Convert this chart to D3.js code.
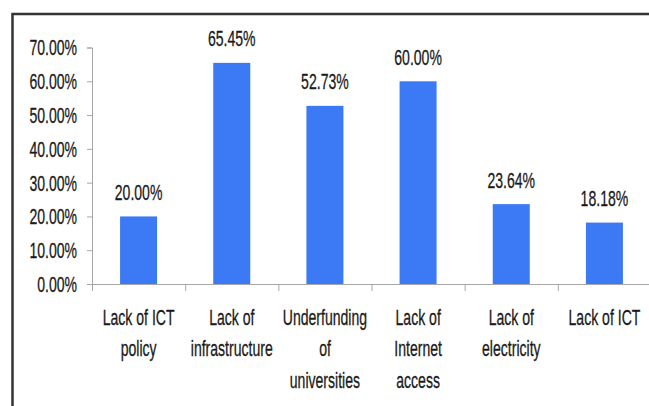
<!DOCTYPE html>
<html>
<head>
<meta charset="utf-8">
<script src="https://cdn.jsdelivr.net/npm/d3@7"></script>
<style>
    body { margin: 0; background: #fff; }
    svg text {
        font-family: "Liberation Sans", Arial, sans-serif;
        font-size: 18px;
        fill: #1a1a1a;
        stroke: #1a1a1a;
        stroke-width: 0.25px;
        transform-box: fill-box;
        transform-origin: center;
        transform: scale(0.78, 1.26);
    }
    svg .yaxis text {
        transform-origin: right center;
    }
</style>
</head>
<body>
<div id="chart"></div>
<script>
// data
const categories = ["Lack of ICT policy", "Lack of infrastructure", "Underfunding of universities",
    "Lack of Internet access", "Lack of electricity", "Lack of ICT"];
const labelLines = [
    ["Lack of ICT", "policy"],
    ["Lack of", "infrastructure"],
    ["Underfunding", "of", "universities"],
    ["Lack of", "Internet", "access"],
    ["Lack of", "electricity"],
    ["Lack of ICT"]
];
const values = [20.00, 65.45, 52.73, 60.00, 23.64, 18.18];
const yTicks = [0, 10, 20, 30, 40, 50, 60, 70];

function drawChart() {
    const width = 649, height = 406;

    const svg = d3.select("#chart")
        .append("svg")
        .attr("width", width)
        .attr("height", height);

    // frame (only left and top are visible)
    svg.append("path")
        .attr("d", "M12.5,406 L12.5,14 L649,14")
        .attr("fill", "none")
        .attr("stroke", "#333")
        .attr("stroke-width", 2.5);

    const xScale = d3.scaleBand()
        .domain(categories)
        .range([92, 651])
        .paddingInner(0)
        .paddingOuter(0);

    const yScale = d3.scaleLinear()
        .domain([0, 70])
        .range([284, 47.5]);

    // y axis
    const yAxis = svg.append("g")
        .attr("class", "yaxis")
        .attr("transform", "translate(92, 0)")
        .call(d3.axisLeft(yScale)
            .tickValues(yTicks)
            .tickSize(5)
            .tickPadding(10)
            .tickFormat(d => d.toFixed(2) + "%"));
    yAxis.select(".domain").attr("stroke", "#a6a6a6");
    yAxis.selectAll(".tick line").attr("stroke", "#a6a6a6");
    yAxis.attr("font-size", null).attr("font-family", null);

    // x axis line with tick marks at band edges
    svg.append("line")
        .attr("x1", 92).attr("x2", 649)
        .attr("y1", yScale(0) + 0.5).attr("y2", yScale(0) + 0.5)
        .attr("stroke", "#a6a6a6");

    svg.append("g")
        .selectAll("line")
        .data(categories)
        .enter()
        .append("line")
        .attr("x1", d => xScale(d) + 0.5)
        .attr("x2", d => xScale(d) + 0.5)
        .attr("y1", yScale(0))
        .attr("y2", yScale(0) + 7)
        .attr("stroke", "#a6a6a6");

    // bars
    const barW = 37;
    svg.append("g")
        .selectAll("rect")
        .data(values)
        .enter()
        .append("rect")
        .attr("x", (d, i) => xScale(categories[i]) + xScale.bandwidth() / 2 - barW / 2)
        .attr("y", d => yScale(d))
        .attr("width", barW)
        .attr("height", d => yScale(0) - yScale(d))
        .attr("fill", "#3b7af4");

    // value labels
    svg.append("g")
        .selectAll("text")
        .data(values)
        .enter()
        .append("text")
        .attr("x", (d, i) => xScale(categories[i]) + xScale.bandwidth() / 2)
        .attr("y", d => yScale(d) - 18)
        .attr("text-anchor", "middle")
        .text(d => d.toFixed(2) + "%");

    // category labels
    const cat = svg.append("g")
        .selectAll("g")
        .data(labelLines)
        .enter()
        .append("g");

    cat.selectAll("text")
        .data((d, i) => d.map(t => ({ t: t, i: i })))
        .enter()
        .append("text")
        .attr("x", d => xScale(categories[d.i]) + xScale.bandwidth() / 2)
        .attr("y", (d, j) => 323 + j * 31.5)
        .attr("text-anchor", "middle")
        .text(d => d.t);
}

drawChart();
</script>
</body>
</html>
